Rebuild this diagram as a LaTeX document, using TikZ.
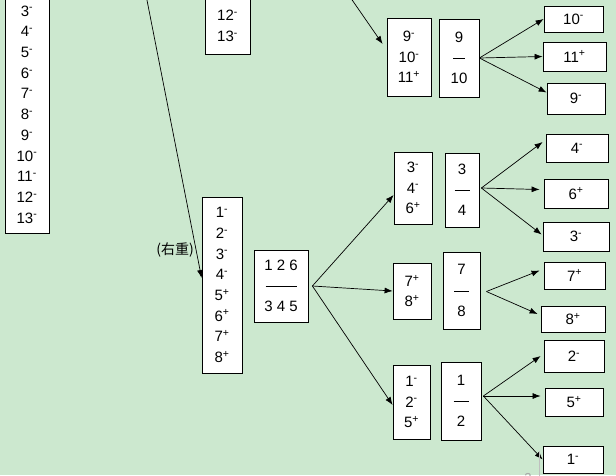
\documentclass[tikz,border=0pt]{standalone}
\usepackage{fontspec}
\setmainfont{Liberation Sans}
\newfontfamily\cjk{Noto Sans CJK SC}
\usepackage{xcolor}
\usetikzlibrary{arrows.meta}
\definecolor{bgreen}{RGB}{204,232,207}
\newcommand{\lgt}[1]{#1\textsuperscript{-}}
\newcommand{\hvy}[1]{#1\textsuperscript{+}}
\newcommand{\frc}[3]{#1\\\rule[4pt]{#3}{0.8pt}\\#2}

\begin{document}
\begin{tikzpicture}[x=1pt,y=-1pt,
    box/.style={draw,fill=white,line width=0.8pt,inner sep=0pt,align=center,
      font=\fontsize{15}{20.7}\selectfont},
    arr/.style={-{Latex[length=8pt,width=6pt]},line width=0.7pt}]
    % Background
    \path[use as bounding box,fill=bgreen] (0,0) rectangle (616,475);
    \clip (0,0) rectangle (616,475);
    % Boxes cut off at the top
    \node[box,minimum width=44pt,minimum height=237pt] (all) at (27,114.5)
      {\lgt{3}\\\lgt{4}\\\lgt{5}\\\lgt{6}\\\lgt{7}\\\lgt{8}\\\lgt{9}\\\lgt{10}\\\lgt{11}\\\lgt{12}\\\lgt{13}};
    \node[box,minimum width=45pt,minimum height=56pt] (rest) at (227.5,26) {\lgt{12}\\\lgt{13}};
    % Second weighing groups
    \node[box,minimum width=40pt,minimum height=176pt] (eight) at (222,285)
      {\lgt{1}\\\lgt{2}\\\lgt{3}\\\lgt{4}\\\hvy{5}\\\hvy{6}\\\hvy{7}\\\hvy{8}};
    \node[font=\cjk\fontsize{14}{14}\selectfont] (side) at (175,250) {(右重)};
    \node[box,minimum width=54pt,minimum height=72pt] (w2) at (281,286)
      {1 2 6\\\rule[4pt]{31pt}{0.8pt}\\3 4 5};
    \node[box,minimum width=44pt,minimum height=78pt] (nine) at (409,57) {\lgt{9}\\\lgt{10}\\\hvy{11}};
    % Third weighing groups
    \node[box,minimum width=38pt,minimum height=72pt] (ga) at (413,188) {\lgt{3}\\\lgt{4}\\\hvy{6}};
    \node[box,minimum width=38pt,minimum height=56pt] (gb) at (412,291) {\hvy{7}\\\hvy{8}};
    \node[box,minimum width=37pt,minimum height=74pt] (gc) at (411.5,402) {\lgt{1}\\\lgt{2}\\\hvy{5}};
    \node[box,minimum width=40pt,minimum height=78pt] (f9) at (459,58) {\frc{9}{10}{12pt}};
    \node[box,minimum width=34pt,minimum height=74pt] (fa) at (462,190) {\frc{3}{4}{15pt}};
    \node[box,minimum width=37pt,minimum height=77pt] (fb) at (461.5,290.5) {\frc{7}{8}{15pt}};
    \node[box,minimum width=40pt,minimum height=78pt] (fc) at (461,401) {\frc{1}{2}{15pt}};
    % Results
    \foreach \nm/\x/\y/\w/\h/\txt in {r10/573.5/19/59/26/\lgt{10}, r11/574.5/56.5/63/29/\hvy{11},
        r9/576/98.5/58/31/\lgt{9}, r4/577/148/62/28/\lgt{4}, r6/576/193.5/64/29/\hvy{6},
        r3/576/236.5/66/29/\lgt{3}, r7/574.5/275.5/61/27/\hvy{7}, r8/573/319/64/26/\hvy{8},
        r2/574/356/60/32/\lgt{2}, r5/574/402/58/28/\hvy{5}, r1/573/459.5/60/27/\lgt{1}} {
      \node[box,minimum width=\w pt,minimum height=\h pt] (\nm) at (\x,\y) {\txt};
    }
    % Arrows
    \coordinate (inL) at (145,-10);
    \coordinate (inR) at (348,-6);
    \draw[arr] (inL) -- ([yshift=7pt]eight.west);
    \draw[arr] (inR) -- ([xshift=-4pt,yshift=13pt]nine.west);
    \draw[arr] ([xshift=4pt]w2.east) -- ([yshift=-7pt]ga.west);
    \draw[arr] ([xshift=4pt]w2.east) -- (gb.west);
    \draw[arr] ([xshift=4pt]w2.east) -- ([yshift=-3pt]gc.west);
    \draw[arr] (f9.east) -- (r10.west);
    \draw[arr] (f9.east) -- (r11.west);
    \draw[arr] (f9.east) -- ([yshift=6pt]r9.west);
    \draw[arr] ([xshift=2pt,yshift=2pt]fa.east) -- ([xshift=-3pt,yshift=6pt]r4.west);
    \draw[arr] ([xshift=2pt,yshift=2pt]fa.east) -- ([xshift=-4pt,yshift=4pt]r6.west);
    \draw[arr] ([xshift=2pt,yshift=2pt]fa.east) -- ([xshift=-1pt,yshift=2pt]r3.west);
    \draw[arr] ([xshift=6pt,yshift=-1pt]fb.east) -- ([xshift=-4pt,yshift=5pt]r7.west);
    \draw[arr] ([xshift=6pt,yshift=-1pt]fb.east) -- ([xshift=-3pt,yshift=5pt]r8.west);
    \draw[arr] ([xshift=2pt,yshift=5pt]fc.east) -- ([xshift=-3pt]r2.west);
    \draw[arr] ([xshift=2pt,yshift=5pt]fc.east) -- ([xshift=-4pt,yshift=6pt]r5.west);
    \draw[arr] ([xshift=2pt,yshift=5pt]fc.east) -- (r1.west);
    % Page number
    \node[text=gray!70,font=\fontsize{13}{13}\selectfont] (pgno) at (528,478) {2};
    \draw[gray!50,line width=1pt] (539,451) -- (539,480);
\end{tikzpicture}
\end{document}
